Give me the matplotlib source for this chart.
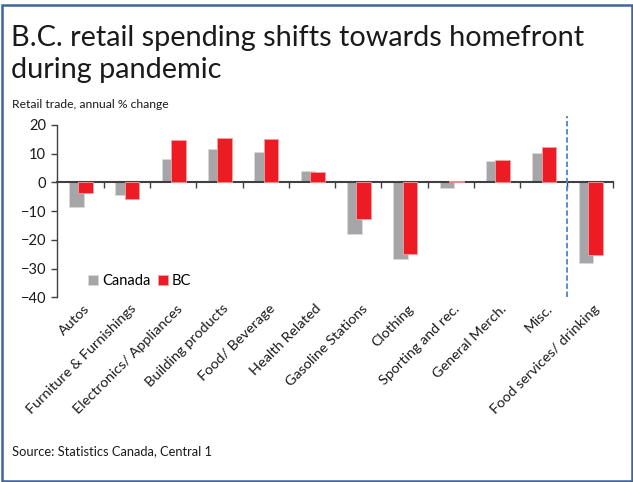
import matplotlib
matplotlib.use("Agg")
import matplotlib.pyplot as plt
from matplotlib.patches import Rectangle
import numpy as np

categories = ["Autos", "Furniture & Furnishings", "Electronics/ Appliances",
              "Building products", "Food/ Beverage", "Health Related",
              "Gasoline Stations", "Clothing", "Sporting and rec.",
              "General Merch.", "Misc.", "Food services/ drinking"]
canada = [-8.6, -4.3, 8.2, 11.7, 10.5, 4.1, -17.9, -26.7, -2.1, 7.3, 10.1, -28.1]
bc = [-3.7, -5.6, 14.9, 15.5, 15.1, 3.7, -12.6, -24.8, 0.5, 7.9, 12.5, -25.3]

plt.rcParams['font.family'] = ['Lato', 'DejaVu Sans']

fig = plt.figure(figsize=(6.33, 4.82), dpi=100)
ax = fig.add_axes([0.0905, 0.3832, 0.878, 0.3575])

x = np.arange(len(categories))
w = 0.32
ax.bar(x - 0.085, canada, w, color='#a6a6a8', edgecolor='#d9d9d9', linewidth=0.6, label='Canada', zorder=2)
ax.bar(x + 0.115, bc, w, color='#ed1c24', edgecolor='#f4a0a4', linewidth=0.6, label='BC', zorder=3)

ax.set_xlim(-0.5, len(categories) - 0.5)
ax.set_ylim(-40, 20)
ax.set_yticks(range(-40, 21, 10))
ax.tick_params(axis='y', labelsize=10.5, length=4, width=1, color='#404040', pad=4,
               labelcolor='#1a1a1a')

# zero line carries the category boundary ticks
for s in ['top', 'right']:
    ax.spines[s].set_visible(False)
ax.spines['left'].set_color('#404040')
ax.spines['left'].set_linewidth(1)
ax.spines['bottom'].set_position(('data', 0))
ax.spines['bottom'].set_color('#404040')
ax.spines['bottom'].set_linewidth(1.5)
ax.set_xticks(np.arange(0.5, len(categories), 1.0))
ax.set_xticklabels([])
ax.tick_params(axis='x', length=4, width=1, color='#404040', direction='out')

# rotated category names under the plot
for i, name in enumerate(categories):
    ax.text(i + 0.06, -0.03, name, transform=ax.get_xaxis_transform(), rotation=45,
            rotation_mode='anchor', ha='right', va='top', fontsize=10.4,
            color='#1a1a1a')

ax.plot([10.5, 10.5], [-40, 23], color='#4a86c8', linewidth=1.3,
        linestyle=(0, (3, 1.5)), clip_on=False, zorder=4)

ax.legend(loc='center left', bbox_to_anchor=(0.045, 0.093), ncol=2, frameon=False,
          fontsize=10.5, handlelength=0.7, handleheight=0.7, handletextpad=0.25,
          columnspacing=0.5, borderaxespad=0)

fig.text(11 / 633, 1 - 46 / 482, "B.C. retail spending shifts towards homefront",
         fontsize=20.8, color='#1a1a1a', va='baseline')
fig.text(11 / 633, 1 - 78 / 482, "during pandemic", fontsize=20.8, color='#1a1a1a',
         va='baseline')
fig.text(12 / 633, 1 - 108 / 482, "Retail trade, annual % change", fontsize=8.7,
         color='#1a1a1a', va='baseline')
fig.text(12 / 633, 1 - 455 / 482, "Source: Statistics Canada, Central 1", fontsize=9.3,
         color='#1a1a1a', va='baseline')

fig.patches.append(Rectangle((1.5 / 633, 1.5 / 482), 630 / 633, 475.5 / 482,
                             transform=fig.transFigure, fill=False,
                             edgecolor='#3f64a0', linewidth=1.8))

fig.savefig("out.png", dpi=100)
